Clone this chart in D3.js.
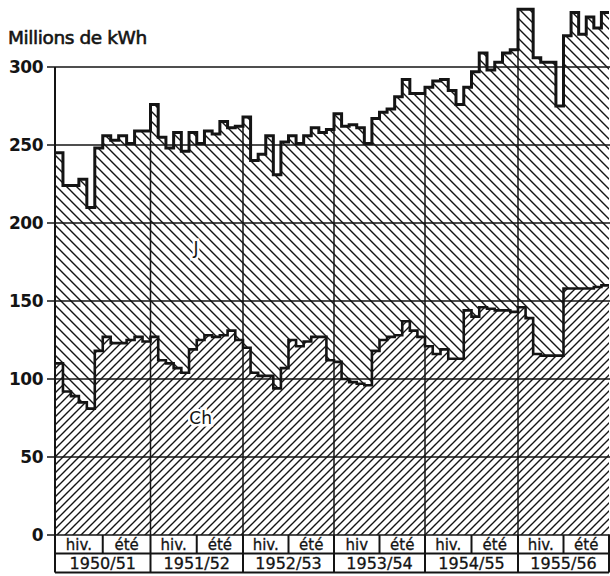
<!DOCTYPE html>
<html><head><meta charset="utf-8">
<script src="https://cdn.jsdelivr.net/npm/d3@7"></script>
<style>body{margin:0;background:#fff}svg{display:block}</style>
</head><body>
<svg id="c" width="610" height="576"></svg>
<script>
// ---- data ----
const years = ["1950/51","1951/52","1952/53","1953/54","1954/55","1955/56"];
const winterLabels = ["hiv.","hiv.","hiv.","hiv","hiv.","hiv."];
const summerLabel = "été";
const yTicks = [0,50,100,150,200,250,300];
// total production (top line, J + Ch), monthly, Oct..Sep
const total = [
  245,224,224,228,210,248,256,253,256,251,259,259,
  276,255,248,258,246,258,251,259,257,265,261,262,
  268,240,244,256,231,252,256,251,256,261,258,260,
  270,262,263,261,251,267,271,273,281,292,283,283,
  287,291,292,285,276,287,297,309,298,303,309,311,
  337,337,306,303,303,275,320,335,321,332,325,335
];
// Ch (lower band), monthly
const ch = [
  110,92,89,85,81,118,127,123,123,125,127,124,
  127,112,110,107,104,119,125,128,127,128,131,125,
  120,104,102,102,94,107,125,121,124,127,127,112,
  111,100,98,97,96,118,125,127,128,137,131,127,
  121,116,119,113,113,144,140,146,145,144,144,143,
  146,139,116,115,115,115,158,158,158,158,159,160
];

// ---- layout ----
const svg = d3.select("#c");
const n = total.length;
const x = d3.scaleLinear().domain([0,12,24,36,48,60,72]).range([55,150.5,243,334,425,518,609]);
const y = d3.scaleLinear().domain([0,300]).range([535,67]);
const ink = "#141414";

const defs = svg.append("defs");
function hatch(id, s, back){
  const p = defs.append("pattern").attr("id",id).attr("patternUnits","userSpaceOnUse")
    .attr("width",s).attr("height",s);
  const d = back
    ? `M0,0L${s},${s}M${-s/4},${s*3/4}L${s/4},${s*5/4}M${s*3/4},${-s/4}L${s*5/4},${s/4}`
    : `M0,${s}L${s},0M${-s/4},${s/4}L${s/4},${-s/4}M${s*3/4},${s*5/4}L${s*5/4},${s*3/4}`;
  p.append("path").attr("d",d).attr("stroke",ink).attr("stroke-width",1.4).attr("fill","none");
}
hatch("hJ", 10, true);
hatch("hC", 8, false);

const pts = d3.range(n+1).map(i => ({i, t: total[Math.min(i,n-1)], c: ch[Math.min(i,n-1)]}));

// areas
svg.append("path").datum(pts).attr("fill","url(#hC)")
  .attr("d", d3.area().curve(d3.curveStepAfter).x(d=>x(d.i)).y0(y(0)).y1(d=>y(d.c)));
svg.append("path").datum(pts).attr("fill","url(#hJ)")
  .attr("d", d3.area().curve(d3.curveStepAfter).x(d=>x(d.i)).y0(d=>y(d.c)).y1(d=>y(d.t)));

// horizontal grid + ticks
svg.append("g").selectAll("line").data(yTicks).join("line")
  .attr("x1",47).attr("x2",610).attr("y1",d=>y(d)).attr("y2",d=>y(d))
  .attr("stroke",ink).attr("stroke-width",1.5);
svg.append("g").selectAll("text").data(yTicks).join("text")
  .attr("x",43).attr("y",d=>y(d)).attr("dy","0.36em").attr("text-anchor","end")
  .attr("font-family","DejaVu Sans").attr("font-weight","bold").attr("font-size",17)
  .attr("letter-spacing",-0.5).attr("fill",ink).text(d=>d);

// year separators inside the areas
const bounds = d3.range(1, years.length);
svg.append("g").selectAll("line").data(bounds).join("line")
  .attr("x1",k=>x(k*12)).attr("x2",k=>x(k*12))
  .attr("y1",y(0)).attr("y2",k=>y(Math.max(total[k*12-1], total[k*12])))
  .attr("stroke",ink).attr("stroke-width",1.5);

// left axis
svg.append("line").attr("x1",x(0)).attr("x2",x(0)).attr("y1",y(300)).attr("y2",y(0))
  .attr("stroke",ink).attr("stroke-width",2);

// step lines
const stepLine = acc => d3.line().curve(d3.curveStepAfter).x(d=>x(d.i)).y(acc);
svg.append("path").datum(pts).attr("fill","none").attr("stroke",ink).attr("stroke-width",2.6)
  .attr("stroke-linejoin","miter").attr("d", stepLine(d=>y(d.c)));
svg.append("path").datum(pts).attr("fill","none").attr("stroke",ink).attr("stroke-width",3)
  .attr("stroke-linejoin","miter").attr("d", stepLine(d=>y(d.t)));

// series labels
function label(txt, mi, v){
  svg.append("text").attr("x",x(mi)).attr("y",y(v)).attr("text-anchor","middle")
    .attr("font-family","DejaVu Sans").attr("font-size",17).attr("fill",ink)
    .attr("stroke","#fff").attr("stroke-width",5).attr("paint-order","stroke").text(txt);
}
label("J", 17.9, 180);
label("Ch", 18.5, 71);

// y-axis title
svg.append("text").attr("x",8).attr("y",44).attr("font-family","DejaVu Sans")
  .attr("font-size",18.5).attr("letter-spacing",-0.4).attr("fill",ink).attr("stroke",ink).attr("stroke-width",0.6)
  .text("Millions de kWh");

// bottom table (season + year rows)
const t0 = y(0), r1 = t0 + 18.5, r2 = r1 + 19;
const tg = svg.append("g");
tg.append("line").attr("x1",x(0)).attr("x2",x(72)).attr("y1",r1).attr("y2",r1).attr("stroke",ink).attr("stroke-width",2);
tg.append("line").attr("x1",x(0)).attr("x2",x(72)).attr("y1",r2).attr("y2",r2).attr("stroke",ink).attr("stroke-width",2);
tg.selectAll(".yb").data(d3.range(years.length+1)).join("line")
  .attr("x1",k=>x(k*12)).attr("x2",k=>x(k*12)).attr("y1",t0).attr("y2",r2)
  .attr("stroke",ink).attr("stroke-width",2);
tg.selectAll(".sb").data(d3.range(years.length)).join("line")
  .attr("x1",k=>x(k*12+6)).attr("x2",k=>x(k*12+6)).attr("y1",t0).attr("y2",r1)
  .attr("stroke",ink).attr("stroke-width",2);
tg.selectAll(".wl").data(winterLabels).join("text")
  .attr("x",(d,k)=>x(k*12+3)).attr("y",r1-4).attr("text-anchor","middle")
  .attr("font-family","DejaVu Sans").attr("font-size",15).attr("fill",ink)
  .attr("stroke",ink).attr("stroke-width",0.3).text(d=>d);
tg.selectAll(".sl").data(years).join("text")
  .attr("x",(d,k)=>x(k*12+9)).attr("y",r1-4).attr("text-anchor","middle")
  .attr("font-family","DejaVu Sans").attr("font-size",15).attr("fill",ink)
  .attr("stroke",ink).attr("stroke-width",0.3).text(summerLabel);
tg.selectAll(".yl").data(years).join("text")
  .attr("x",(d,k)=>x(k*12+6)).attr("y",r2-4).attr("text-anchor","middle")
  .attr("font-family","DejaVu Sans").attr("font-size",16).attr("fill",ink)
  .attr("stroke",ink).attr("stroke-width",0.3).text(d=>d);
</script>
</body></html>
